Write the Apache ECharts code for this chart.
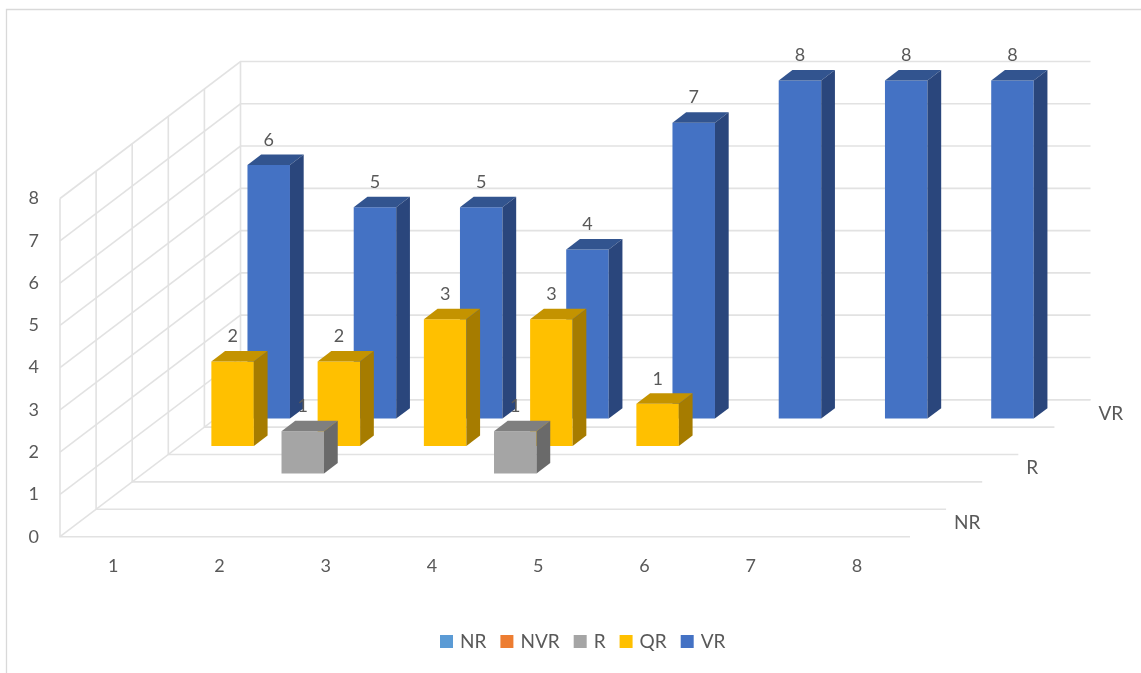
<!DOCTYPE html>
<html>
<head>
<meta charset="utf-8">
<title>3D column chart</title>
<style>html,body{margin:0;padding:0;background:#fff}#c{width:1141px;height:673px}</style>
<script src="https://cdn.jsdelivr.net/npm/echarts@6/dist/echarts.min.js"></script>
</head>
<body>
<div id="c"></div>
<script>
const categories = ['1','2','3','4','5','6','7','8'];
const yTicks = [0,1,2,3,4,5,6,7,8];
const seriesNames = ['NR','NVR','R','QR','VR'];
const depthLabels = ['NR','','R','','VR'];
const nrValues = [];
const nvrValues = [];
const rValues  = [0,1,0,1,0,0,0,0];
const qrValues = [2,2,3,3,1,0,0,0];
const vrValues = [6,5,5,4,7,8,8,8];

const FONT = 'Lato';
const TEXT = '#595959';
const GRIDLINE = '#E2E2E2';
const STEP_X = 36.1, STEP_Y = 27.4;     // oblique shift of one depth slot
const BAR_W = 0.4, BAR_D = 0.38;        // share of a category band / depth slot

function frame(api){
  const band = api.size([1,0])[0];
  const left = api.coord([0,0])[0] - band/2;
  return {band, left, right: left + band*categories.length};
}
function shift(p, d){ return [p[0] + d*STEP_X, p[1] - d*STEP_Y]; }
function line(points){
  return {type:'polyline', silent:true, shape:{points},
    style:{stroke:GRIDLINE, lineWidth:1.6, fill:null}};
}
function levelLine(params, api){
  const f = frame(api), v = api.value(0), y = api.coord([0,v])[1];
  return line([[f.left,y], shift([f.left,y],5), shift([f.right,y],5)]);
}
function depthLine(params, api){
  const f = frame(api), d = api.value(0);
  const y0 = api.coord([0,0])[1], yT = api.coord([0,yTicks[yTicks.length-1]])[1];
  return {type:'group', silent:true, children:[
    line([shift([f.left,yT],d), shift([f.left,y0],d), shift([f.right,y0],d)])
  ]};
}
function depthLabel(params, api){
  const f = frame(api), i = params.dataIndex;
  const p = shift([f.right, api.coord([0,0])[1]], i+0.5);
  return {type:'text', silent:true, style:{text:depthLabels[i], x:p[0]+26, y:p[1],
    fill:TEXT, font:'19px '+FONT, align:'left', verticalAlign:'middle'}};
}
function barRenderer(depth, front, top, side){
  return function(params, api){
    const value = api.value(1);
    if(!value) return {type:'group', children:[]};
    const cat = api.value(0), band = api.size([1,0])[0], w = band*BAR_W;
    const c = api.coord([cat,value]), b = api.coord([cat,0]);
    const d0 = depth + (1-BAR_D)/2, d1 = d0 + BAR_D;
    const xl = c[0]-w/2, xr = c[0]+w/2;
    const ftl = shift([xl,c[1]],d0), ftr = shift([xr,c[1]],d0),
          fbl = shift([xl,b[1]],d0), fbr = shift([xr,b[1]],d0),
          btl = shift([xl,c[1]],d1), btr = shift([xr,c[1]],d1),
          bbr = shift([xr,b[1]],d1);
    const poly = (points,fill)=>({type:'polygon', shape:{points}, style:{fill}});
    return {type:'group', children:[
      poly([ftl,ftr,fbr,fbl], front),
      poly([ftl,ftr,btr,btl], top),
      poly([ftr,btr,bbr,fbr], side),
      {type:'text', silent:true, style:{text:String(value), x:(ftl[0]+ftr[0])/2, y:ftl[1]-25,
        fill:TEXT, font:'18px '+FONT, align:'center', verticalAlign:'middle'}}
    ]};
  };
}
function barSeries(name, values, depth, front, top, side){
  return {name, type:'custom', coordinateSystem:'cartesian2d', z:15-depth,
    itemStyle:{color:front},
    data:values.map((v,i)=>[i,v]),
    encode:{x:0,y:1},
    renderItem:barRenderer(depth,front,top,side)};
}

const chart = echarts.init(document.getElementById('c'), null, {renderer:'canvas', width:1141, height:673});
chart.setOption({
  animation:false,
  backgroundColor:'#fff',
  textStyle:{fontFamily:FONT},
  graphic:[{type:'rect', silent:true, z:-10,
    shape:{x:6.5,y:9.5,width:1300,height:800}, style:{fill:'none',stroke:'#D9D9D9',lineWidth:1.3}}],
  grid:{left:60,right:231,top:198.5,bottom:136.3},
  legend:{
    data:seriesNames, left:435, top:627, itemWidth:13, itemHeight:13, itemGap:14, icon:'rect',
    textStyle:{color:TEXT, fontFamily:FONT, fontSize:19, padding:[0,0,0,2]}
  },
  xAxis:{type:'category', data:categories,
    axisLine:{show:false}, axisTick:{show:false}, splitLine:{show:false},
    axisLabel:{color:TEXT, fontFamily:FONT, fontSize:18, margin:20}},
  yAxis:{type:'value', min:0, max:8, interval:1,
    axisLine:{show:false}, axisTick:{show:false}, splitLine:{show:false},
    axisLabel:{color:TEXT, fontFamily:FONT, fontSize:18, margin:21}},
  series:[
    {name:'levels', type:'custom', coordinateSystem:'cartesian2d', z:1, silent:true,
      data:yTicks.map(v=>[v]), encode:{y:0}, renderItem:levelLine},
    {name:'depths', type:'custom', coordinateSystem:'cartesian2d', z:1, silent:true,
      data:[0,1,2,3,4,5].map(v=>[v]), encode:{}, renderItem:depthLine},
    {name:'depthLabels', type:'custom', coordinateSystem:'cartesian2d', z:2, silent:true,
      data:depthLabels.map((t,i)=>[i]), encode:{}, renderItem:depthLabel},
    barSeries('NR', nrValues, 0, '#5B9BD5', '#41719C', '#41719C'),
    barSeries('NVR', nvrValues, 1, '#ED7D31', '#AE5A21', '#AE5A21'),
    barSeries('VR', vrValues, 4, '#4472C4', '#32548F', '#2A467C'),
    barSeries('QR', qrValues, 3, '#FFC000', '#C49300', '#A67C00'),
    barSeries('R', rValues, 2, '#A5A5A5', '#7F7F7F', '#6A6A6A')
  ]
});
</script>
</body>
</html>
